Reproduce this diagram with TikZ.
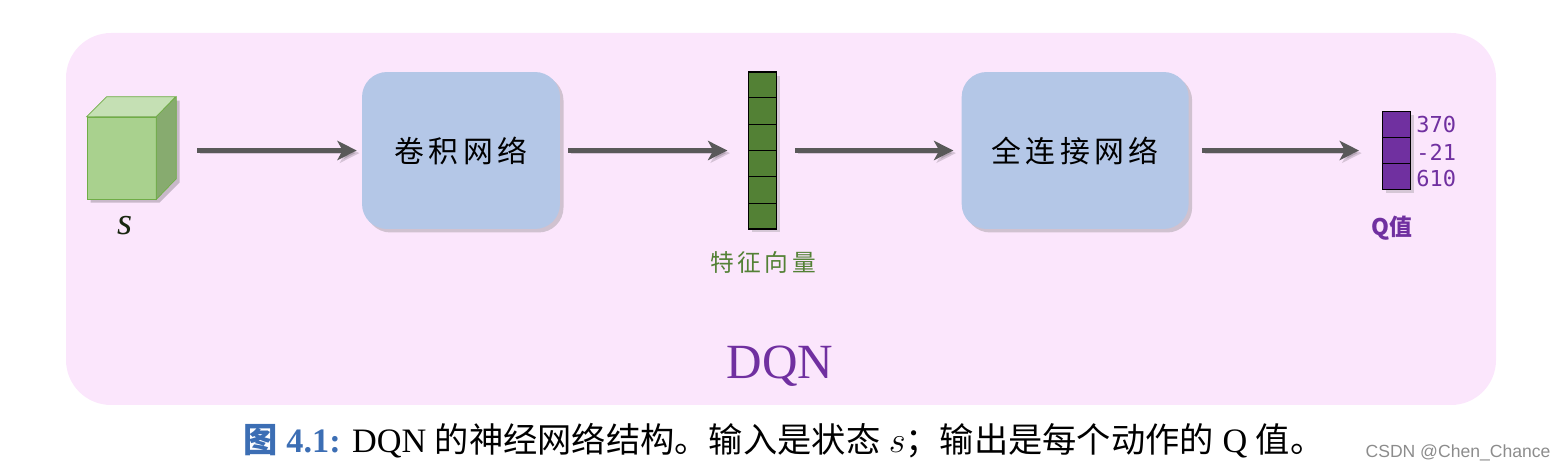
\documentclass[tikz,border=0pt]{standalone}
\usepackage{fontspec}
\setmainfont{Liberation Serif}
\setsansfont{Liberation Sans}
\setmonofont{DejaVu Sans Mono}
\newfontfamily\cjk{Noto Sans CJK SC}
\newfontfamily\cjkwide[LetterSpace=15]{Noto Sans CJK SC}
\usetikzlibrary{arrows.meta,positioning,shadows,calc}

\definecolor{bgpink}{HTML}{FBE6FC}
\definecolor{boxblue}{HTML}{B4C7E7}
\definecolor{arrgray}{HTML}{595959}
\definecolor{featgreen}{HTML}{538135}
\definecolor{qpurple}{HTML}{7030A0}
\definecolor{capblue}{HTML}{3C6EB4}
\definecolor{cubefront}{HTML}{A9D18E}
\definecolor{cubetop}{HTML}{C5E0B4}
\definecolor{cubeside}{HTML}{87AB6F}
\definecolor{cubeedge}{HTML}{70AD47}

\begin{document}
\begin{tikzpicture}[x=0.02cm, y=-0.02cm,
  net/.style={fill=boxblue, rounded corners=0.5cm, minimum height=3.14cm, font=\fontsize{17}{20}\cjkwide,
    drop shadow={shadow xshift=2pt, shadow yshift=-2pt, opacity=0.35}},
  vec/.style={draw=black, line width=0.6pt, minimum width=0.56cm, inner sep=0pt,
    drop shadow={shadow xshift=2pt, shadow yshift=-2pt, opacity=0.3}},
  arr/.style={draw=arrgray, line width=2.3pt, -{Stealth[length=11pt,width=11pt,inset=3pt]},
    preaction={draw=black, opacity=0.15, transform canvas={shift={(1.5pt,-1.5pt)}}}},
  num/.style={anchor=west, text=qpurple, inner sep=0pt, font=\ttfamily\fontsize{12.5}{14}\selectfont},
  node distance=3.76cm
]
  \useasboundingbox (0,0) rectangle (1557,472);
  % panel
  \fill[bgpink, rounded corners=0.9cm] (66,33) rectangle (1496,405);

  % networks and vectors
  \node[net, minimum width=3.96cm] (cnn) at (461,150.5) {卷积网络};
  \node[vec, fill=featgreen, minimum height=3.14cm, right=of cnn] (feat) {};
  \node[net, minimum width=4.54cm, right=3.68cm of feat] (fc) {全连接网络};
  \node[vec, fill=qpurple, minimum height=1.56cm, right=3.86cm of fc] (qval) {};
  \foreach \k in {1,...,5}
    \draw[line width=0.6pt] ($(feat.north west)!\k/6!(feat.south west)$) -- ($(feat.north east)!\k/6!(feat.south east)$);
  \foreach \k in {1,2}
    \draw[line width=0.6pt] ($(qval.north west)!\k/3!(qval.south west)$) -- ($(qval.north east)!\k/3!(qval.south east)$);

  % state cube
  \fill[black, opacity=0.2, transform canvas={shift={(2pt,-2pt)}}] (87,199) -- (87,117) -- (107,97) -- (176,97) -- (176,179) -- (156,199) -- cycle;
  \node[draw=cubeedge, fill=cubefront, minimum width=1.38cm, minimum height=1.64cm, inner sep=0pt] (state) at (121.5,158) {};
  \filldraw[fill=cubetop, draw=cubeedge] (state.north west) -- ++(20,-20) -- ++(69,0) -- (state.north east) -- cycle;
  \filldraw[fill=cubeside, draw=cubeedge] (state.north east) -- ++(20,-20) -- ++(0,82) -- (state.south east) -- cycle;

  % labels
  \node[text=black!70!featgreen, font=\fontsize{22}{24}\itshape] (slbl) at (125,226) {s};
  \node[text=featgreen, font=\fontsize{13.5}{16}\cjkwide] (featlbl) at (763,262) {特征向量};
  \foreach \v [count=\i] in {370,-21,610}
    \node[num] (q\i) at (1416, 98+27*\i) {\v};
  \node[text=qpurple, font=\fontsize{13}{15}\cjk\bfseries] (qlbl) at (1392,228) {Q值};
  \node[text=qpurple, font=\fontsize{28}{32}\selectfont] (title) at (780,366) {DQN};

  % arrows
  \draw[arr, shorten <=0.82cm, shorten >=0.1cm] (state.east |- cnn.west) -- (cnn.west);
  \draw[arr, shorten <=0.16cm, shorten >=0.42cm] (cnn.east) -- (feat.west);
  \draw[arr, shorten <=0.36cm, shorten >=0.16cm] (feat.east) -- (fc.west);
  \draw[arr, shorten <=0.26cm, shorten >=0.46cm] (fc.east) -- (qval.west |- fc.east);

  % caption
  \node[font=\fontsize{19.5}{22}\selectfont] (caption) at (784,441)
    {{\color{capblue}\bfseries{\cjk 图} 4.1:} DQN {\cjk 的神经网络结构。输入是状态} $s${\cjk ；输出是每个动作的} Q {\cjk 值。}};
  \node[text=black!45, font=\fontsize{10}{12}\sffamily] (mark) at (1458,453) {CSDN @Chen\_Chance};
\end{tikzpicture}
\end{document}
